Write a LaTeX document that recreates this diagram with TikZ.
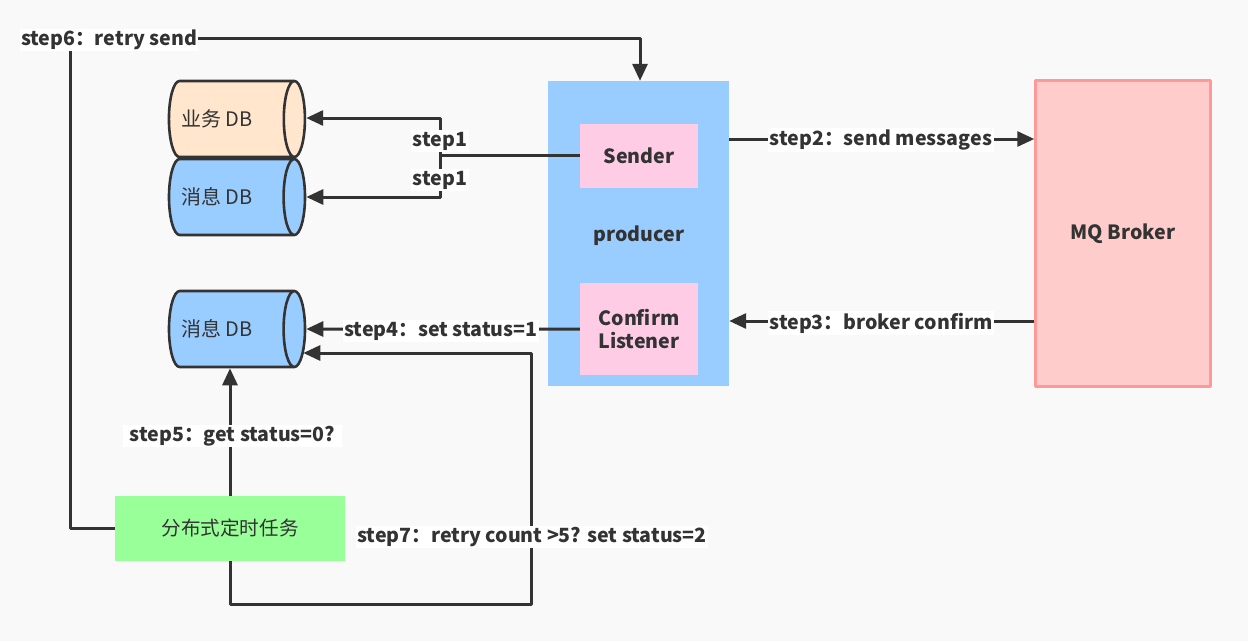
\documentclass[tikz,border=0pt]{standalone}
\usepackage{fontspec}
\setmainfont{Noto Sans CJK SC}
\usetikzlibrary{shapes.geometric,arrows.meta,calc}
\definecolor{bggray}{HTML}{F9F9F9}
\definecolor{prodblue}{HTML}{99CCFF}
\definecolor{boxpink}{HTML}{FFCCE6}
\definecolor{brokerfill}{HTML}{FFCCCC}
\definecolor{brokerline}{HTML}{FF9999}
\definecolor{peach}{HTML}{FFE6CC}
\definecolor{jobgreen}{HTML}{99FF99}
\definecolor{ink}{HTML}{333333}
\begin{document}
\begin{tikzpicture}[x=1pt, y=-1pt, line join=round, >={Triangle[length=17pt,width=15pt]},
	flow/.style={draw=ink, line width=3pt},
	steplabel/.style={fill=white, inner sep=1.5pt, text=ink, font=\fontsize{19.6}{22}\selectfont\bfseries},
	dbnode/.style={cylinder, draw=ink, line width=2.6pt, aspect=1.15, minimum width=76pt, minimum height=136pt, inner sep=0pt, text=ink, font=\fontsize{20}{22}\selectfont},
	boxnode/.style={rectangle, inner sep=0pt, text=ink, align=center}]

	\fill[bggray] (0,0) rectangle (1248,641);
	\useasboundingbox (0,0) rectangle (1248,641);

	% boxes
	\node[boxnode, fill=prodblue, minimum width=181pt, minimum height=305pt] (producer) at (638.5,233.5) {};
	\node[boxnode, font=\fontsize{19.6}{22}\selectfont\bfseries] (prodtext) at (639,236) {producer};
	\node[boxnode, fill=boxpink, minimum width=118pt, minimum height=64pt, font=\fontsize{19.6}{22}\selectfont\bfseries] (sender) at (639,156) {Sender};
	\node[boxnode, fill=boxpink, minimum width=118pt, minimum height=92pt, font=\fontsize{19.6}{23}\selectfont\bfseries] (listener) at (639,329) {Confirm\\Listener};
	\node[boxnode, fill=brokerfill, draw=brokerline, line width=2.5pt, minimum width=175pt, minimum height=306pt, font=\fontsize{19.6}{22}\selectfont\bfseries] (broker) at (1123,233.5) {MQ Broker};
	\node[boxnode, fill=jobgreen, minimum width=230pt, minimum height=65pt, font=\fontsize{19.6}{22}\selectfont] (job) at (230,528.5) {分布式定时任务};

	% databases
	\node[dbnode, fill=peach] (bizdb) at (231,119) {业务 DB\hspace*{28pt}};
	\node[dbnode, fill=prodblue] (msgdb) at (231,197) {消息 DB\hspace*{28pt}};
	\node[dbnode, fill=prodblue] (msgdbb) at (231,329) {消息 DB\hspace*{28pt}};

	% corners
	\coordinate (J1) at (440,155);
	\coordinate (J1a) at (440,118);
	\coordinate (J1b) at (440,197);
	\coordinate (S6a) at (70,528);
	\coordinate (S6b) at (70,38);
	\coordinate (S6c) at (640,38);
	\coordinate (S7a) at (230,604);
	\coordinate (S7b) at (531,604);
	\coordinate (S7c) at (531,353);

	\draw[flow] (sender.west |- J1) -- (J1);
	\draw[flow, ->] (J1) -- (J1a) -- (bizdb.east |- J1a);
	\draw[flow, ->] (J1) -- (J1b) -- (msgdb.east |- J1b);
	\draw[flow, ->] (producer.east |- 0,139) -- (broker.west |- 0,139);
	\draw[flow, ->] (broker.west |- 0,321) -- (producer.east |- 0,321);
	\draw[flow, ->] (listener.west) -- (msgdbb.east);
	\draw[flow, ->] (job.north) -- (job.north |- msgdbb.south);
	\draw[flow, ->] (job.west |- S6a) -- (S6a) -- (S6b) -- (S6c) -- (S6c |- producer.north);
	\draw[flow, ->] (job.south) -- (S7a) -- (S7b) -- (S7c) -- ($(msgdbb.east |- S7c)+(-3,0)$);

	% labels
	\node[steplabel] (l1a) at (440,141) {step1};
	\node[steplabel] (l1b) at (440,180) {step1};
	\node[steplabel] (l6) at (109,40) {step6：retry send};
	\node[steplabel] (l2) at (881,140) {step2：send messages};
	\node[steplabel] (l3) at (881,323) {step3：broker confirm};
	\node[steplabel] (l4) at (441,331) {step4：set status=1};
	\node[steplabel, inner xsep=7pt, xshift=5.5pt] (l5) at (227,436) {step5：get status=0?};
	\node[steplabel] (l7) at (532,537) {step7：retry count >5? set status=2};
\end{tikzpicture}
\end{document}
